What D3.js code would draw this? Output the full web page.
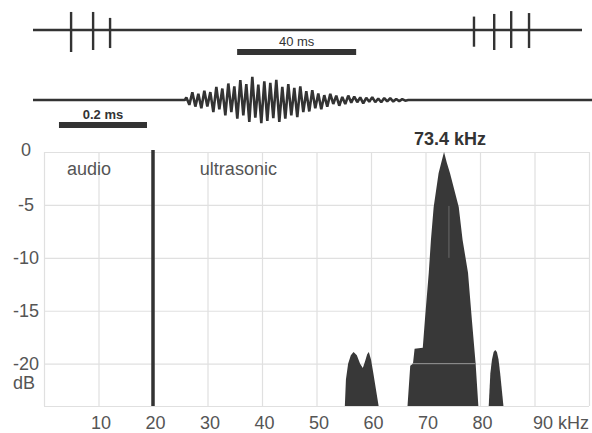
<!DOCTYPE html>
<html>
<head>
<meta charset="utf-8">
<script src="https://cdn.jsdelivr.net/npm/d3@7"></script>
<style>
  html, body { margin: 0; padding: 0; background: #fff; }
  svg { display: block; }
  text { font-family: "Liberation Sans", Arial, sans-serif; }
</style>
</head>
<body>
<svg id="chart" width="592" height="433"></svg>
<script>
// ---------------- DATA ----------------
// Top trace: echolocation call train (time in ms)
const trainDurationMs = 184.5;
const spikeTimes = [12.8, 20.2, 25.9, 148.2, 155.0, 160.7, 166.7];
const spikeHigh  = [0.82, 0.82, 0.55, 0.61, 0.73, 0.86, 0.77];
const spikeLow   = [-1.0, -0.91, -0.82, -0.76, -0.91, -0.82, -0.82];
const trainBarStart = 68.6, trainBarLength = 40, trainBarLabel = "40 ms";

// Second trace: single call waveform (time in ms)
const callDurationMs = 1.27;
const callStartMs = 0.345;
const carrierKHz = 73.4;
const burstPeaks = [
  0.12, -0.22, 0.35, -0.30, 0.28, -0.38, 0.42, -0.30,
  0.36, -0.55, 0.60, -0.42, 0.52, -0.70, 0.75, -0.55,
  0.62, -0.85, 0.90, -0.70, 0.72, -1.00, 1.05, -0.80,
  0.70, -1.05, 0.85, -0.95, 0.78, -0.82, 0.92, -1.00,
  0.60, -0.85, 0.72, -0.70, 0.55, -0.78, 0.62, -0.55,
  0.40, -0.52, 0.45, -0.38, 0.30, -0.42, 0.22, -0.30,
  0.28, -0.18, 0.20, -0.26, 0.14, -0.18, 0.20, -0.12,
  0.16, -0.10, 0.12, -0.15, 0.10, -0.08, 0.13, -0.10,
  0.07, -0.10, 0.09, -0.06, 0.08, -0.07, 0.05, -0.06,
  0.04, -0.03
];
const callBarStart = 0.059, callBarLength = 0.2, callBarLabel = "0.2 ms";

// Spectrum (frequency kHz, level dB)
const mainFreq = [66.7, 67.2, 67.7, 68.0, 69.5, 69.9, 70.6, 71.0, 71.5, 72.4, 72.9, 73.4, 73.9, 74.5, 76.1, 76.8, 77.8, 78.5, 79.2, 79.7];
const mainDb   = [-24, -20.2, -20, -18.6, -18.5, -15.8, -11.4, -8.3, -5.2, -2.0, -1.0, 0, -1.0, -2.0, -5.2, -8.3, -11.4, -15.8, -20, -24];
const lobeAFreq = [55.2, 55.4, 55.8, 56.3, 56.8, 57.4, 58.0, 58.5, 58.9, 59.3, 59.6, 60.0, 60.4, 61.4];
const lobeADb   = [-24, -21.5, -20, -19.2, -18.9, -19.2, -20, -20.4, -19.8, -19.1, -18.9, -19.6, -20.8, -24];
const lobeBFreq = [81.6, 81.9, 82.2, 82.5, 82.8, 83.1, 83.4, 83.7, 84.3];
const lobeBDb   = [-24, -20.9, -19.6, -18.9, -18.7, -18.9, -19.6, -20.9, -24];

const peakFreqLabel = "73.4 kHz";
const boundaryKHz = 20;
const regionLabels = ["audio", "ultrasonic"];
const regionLabelFreq = [4.2, 28.6];
const regionLabelDb = -2.2;

const xGridTicks = [0, 10, 20, 30, 40, 50, 60, 70, 80, 90, 100];
const xLabelTicks = [10, 20, 30, 40, 50, 60, 70, 80, 90];
const yGridTicks = [0, -5, -10, -15, -20, -24];
const yLabelTicks = [0, -5, -10, -15, -20];
const xUnit = "kHz", yUnit = "dB";

// ---------------- DRAW ----------------
const svg = d3.select("#chart");
const dark = "#333";

// Top trace
const tTop = d3.scaleLinear().domain([0, trainDurationMs]).range([33, 582]);
const aTop = d3.scaleLinear().domain([-1, 1]).range([52, 8]);
svg.append("line")
  .attr("x1", tTop(0)).attr("x2", tTop(trainDurationMs))
  .attr("y1", aTop(0)).attr("y2", aTop(0))
  .attr("stroke", dark).attr("stroke-width", 2.5);
svg.selectAll(".spike").data(spikeTimes).join("line")
  .attr("class", "spike")
  .attr("x1", d => tTop(d)).attr("x2", d => tTop(d))
  .attr("y1", (d, i) => aTop(spikeHigh[i])).attr("y2", (d, i) => aTop(spikeLow[i]))
  .attr("stroke", dark).attr("stroke-width", 2.4);
svg.append("rect")
  .attr("x", tTop(trainBarStart)).attr("y", 49)
  .attr("width", tTop(trainBarStart + trainBarLength) - tTop(trainBarStart))
  .attr("height", 6).attr("fill", dark);
svg.append("text")
  .attr("x", tTop(trainBarStart + trainBarLength / 2)).attr("y", 46)
  .attr("text-anchor", "middle").attr("font-size", 13).attr("fill", dark)
  .text(trainBarLabel);

// Second trace
const tCall = d3.scaleLinear().domain([0, callDurationMs]).range([33, 592]);
const aCall = d3.scaleLinear().domain([-1, 1]).range([122, 78]);
const halfPeriod = 1 / (2 * carrierKHz);
const callPts = [[0, 0], [callStartMs, 0]]
  .concat(burstPeaks.map((v, i) => [callStartMs + (i + 0.5) * halfPeriod, v]))
  .concat([[callStartMs + (burstPeaks.length + 0.5) * halfPeriod, 0], [callDurationMs, 0]]);
svg.append("path")
  .attr("d", d3.line().x(d => tCall(d[0])).y(d => aCall(d[1]))(callPts))
  .attr("fill", "none").attr("stroke", dark).attr("stroke-width", 2.6)
  .attr("stroke-linejoin", "bevel");
svg.append("rect")
  .attr("x", tCall(callBarStart)).attr("y", 122)
  .attr("width", tCall(callBarStart + callBarLength) - tCall(callBarStart))
  .attr("height", 6).attr("fill", dark);
svg.append("text")
  .attr("x", tCall(callBarStart + callBarLength / 2)).attr("y", 119)
  .attr("text-anchor", "middle").attr("font-size", 13).attr("font-weight", "bold").attr("fill", dark)
  .text(callBarLabel);

// Spectrum
const x = d3.scaleLinear().domain([0, 100]).range([44, 589]);
const y = d3.scaleLinear().domain([-24, 0]).range([406, 152]);
const plotH = y(-24) - y(0);
const plotW = x(100) - x(0);

svg.append("g").attr("transform", `translate(0,${y(-24)})`)
  .call(d3.axisBottom(x).tickValues(xGridTicks).tickSize(-plotH).tickFormat(""))
  .call(g => g.select(".domain").remove())
  .call(g => g.selectAll("line").attr("stroke", "#e0e0e0").attr("stroke-width", 1.2));
svg.append("g").attr("transform", `translate(${x(0)},0)`)
  .call(d3.axisLeft(y).tickValues(yGridTicks).tickSize(-plotW).tickFormat(""))
  .call(g => g.select(".domain").remove())
  .call(g => g.selectAll("line").attr("stroke", "#e0e0e0").attr("stroke-width", 1.2));

const area = d3.area()
  .x(d => x(d[0])).y0(y(-24)).y1(d => y(d[1]));
[[mainFreq, mainDb], [lobeAFreq, lobeADb], [lobeBFreq, lobeBDb]].forEach(([f, db]) => {
  svg.append("path")
    .attr("d", area(f.map((v, i) => [v, db[i]])))
    .attr("fill", "#383838");
});
// faint seams visible inside the main peak
svg.append("line")
  .attr("x1", x(67.6)).attr("x2", x(79.1)).attr("y1", y(-20)).attr("y2", y(-20))
  .attr("stroke", "#9a9a9a").attr("stroke-width", 1);
svg.append("line")
  .attr("x1", x(74.3)).attr("x2", x(74.3)).attr("y1", y(-5.1)).attr("y2", y(-10))
  .attr("stroke", "#6a6a6a").attr("stroke-width", 1);

// 20 kHz boundary
svg.append("line")
  .attr("x1", x(boundaryKHz)).attr("x2", x(boundaryKHz))
  .attr("y1", y(0) - 2).attr("y2", y(-24))
  .attr("stroke", dark).attr("stroke-width", 3.5);

// X labels
svg.append("g").attr("transform", `translate(2,${y(-24)})`)
  .call(d3.axisBottom(x).tickValues(xLabelTicks).tickSize(0).tickPadding(10)
    .tickFormat(d => d === 90 ? `${d} ${xUnit}` : d))
  .call(g => g.select(".domain").remove())
  .call(g => g.selectAll("text")
    .attr("font-family", "'Liberation Sans', Arial, sans-serif")
    .attr("font-size", 18).attr("fill", "#555").attr("dy", "0.72em"))
  .call(g => g.selectAll(".tick").filter(d => d === 90).select("text")
    .attr("text-anchor", "start").attr("x", -4));

// Y labels
svg.append("g").attr("transform", `translate(${x(0)},0)`)
  .call(d3.axisLeft(y).tickValues(yLabelTicks).tickSize(0).tickFormat(d => d))
  .call(g => g.select(".domain").remove())
  .call(g => g.selectAll("text")
    .attr("font-family", "'Liberation Sans', Arial, sans-serif")
    .attr("font-size", 18).attr("fill", "#555")
    .attr("text-anchor", "middle").attr("x", -18)
    .attr("dy", d => d === 0 ? 3 : 6));
svg.append("text")
  .attr("x", x(0) - 20).attr("y", y(-22.4))
  .attr("text-anchor", "middle").attr("font-size", 18).attr("fill", "#555")
  .text(yUnit);

// Region labels
svg.selectAll(".region").data(regionLabels).join("text")
  .attr("class", "region")
  .attr("x", (d, i) => x(regionLabelFreq[i])).attr("y", y(regionLabelDb))
  .attr("font-size", 18).attr("fill", "#555")
  .text(d => d);

// Peak label
svg.append("text")
  .attr("x", x(carrierKHz) + 6).attr("y", 145)
  .attr("text-anchor", "middle").attr("font-size", 18).attr("font-weight", "bold").attr("fill", dark)
  .text(peakFreqLabel);
</script>
</body>
</html>
